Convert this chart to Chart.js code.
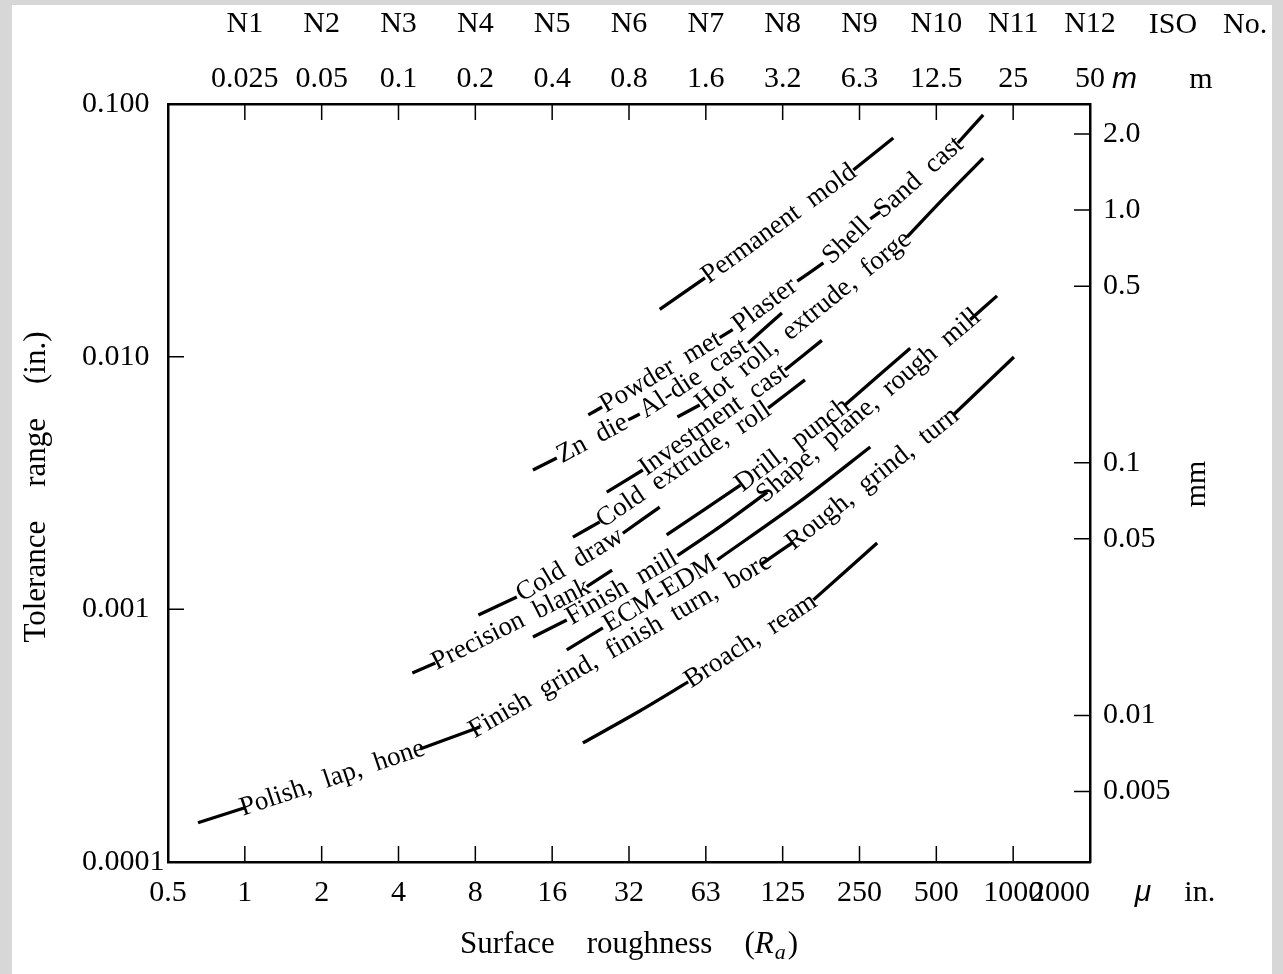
<!DOCTYPE html>
<html>
<head>
<meta charset="utf-8">
<script src="https://cdn.jsdelivr.net/npm/chart.js@4.4.1/dist/chart.umd.min.js"></script>
<style>
  html, body { margin: 0; padding: 0; background: #fff; }
  canvas { display: block; }
</style>
</head>
<body>
<canvas id="toleranceChart" width="1283" height="974"></canvas>
<script>
// axis labels: roughness doubles at every tick, so ticks sit at index 0..12
const roughnessLabels = ['0.5', '1', '2', '4', '8', '16', '32', '63', '125', '250', '500', '1000', '2000'];
const micronLabels = ['', '0.025', '0.05', '0.1', '0.2', '0.4', '0.8', '1.6', '3.2', '6.3', '12.5', '25', '50'];
const isoLabels = ['', 'N1', 'N2', 'N3', 'N4', 'N5', 'N6', 'N7', 'N8', 'N9', 'N10', 'N11', 'N12'];
const toleranceTicks = [0.1, 0.01, 0.001, 0.0001];
const toleranceLabels = ['0.100', '0.010', '0.001', '0.0001'];
const mmTicks = [2.0, 1.0, 0.5, 0.1, 0.05, 0.01, 0.005];
const mmLabels = ['2.0', '1.0', '0.5', '0.1', '0.05', '0.01', '0.005'];

// processes: x = roughness tick index, tol = tolerance (in.)
// null marks a break in the line where the process name is written
const polishX = [0.39, 1.00, null, 3.28, 4.06, null, 7.71, 8.12, null, 10.22, 11.01];
const polishTol = [1.43e-4, 1.64e-4, null, 2.80e-4, 3.42e-4, null, 1.50e-3, 1.83e-3, null, 5.88e-3, 9.97e-3];
const polishNames = ['Polish,  lap,  hone', 'Finish  grind,  finish  turn,  bore', 'Rough,  grind,  turn'];

const blankX = [3.18, 3.48, null, 5.45, 5.78];
const blankTol = [5.60e-4, 6.13e-4, null, 1.23e-3, 1.43e-3];
const blankNames = ['Precision  blank'];

const drawX = [4.04, 4.54, null, 5.92, 6.40];
const drawTol = [9.50e-4, 1.12e-3, null, 2.00e-3, 2.54e-3];
const drawNames = ['Cold  draw'];

const coldExtrudeX = [5.27, 5.62, null, 7.81, 8.29];
const coldExtrudeTol = [1.93e-3, 2.22e-3, null, 6.26e-3, 8.09e-3];
const coldExtrudeNames = ['Cold  extrude,  roll'];

const millX = [4.75, 5.19, null, 6.63, 7.18, 7.80, null, 10.44, 10.79];
const millTol = [7.77e-4, 9.07e-4, null, 1.63e-3, 2.12e-3, 2.91e-3, null, 1.40e-2, 1.74e-2];
const millNames = ['Finish  mill', 'Shape,  plane,  rough  mill'];

const ecmX = [5.19, 5.66, null, 7.15, 8.23, 9.14];
const ecmTol = [6.91e-4, 8.44e-4, null, 1.57e-3, 2.68e-3, 4.39e-3];
const ecmNames = ['ECM-EDM'];

const drillX = [6.49, 7.45, null, 8.81, 9.66];
const drillTol = [1.97e-3, 3.10e-3, null, 6.44e-3, 1.08e-2];
const drillNames = ['Drill,  punch'];

const investX = [5.71, 6.18, null, 8.03, 8.51];
const investTol = [2.91e-3, 3.56e-3, null, 8.86e-3, 1.16e-2];
const investNames = ['Investment  cast'];

const hotRollX = [6.63, 6.92, null, 9.62, 10.11, 10.61];
const hotRollTol = [5.77e-3, 6.44e-3, null, 2.98e-2, 4.28e-2, 6.11e-2];
const hotRollNames = ['Hot  roll,  extrude,  forge'];

const dieCastX = [4.75, 5.06, null, 5.99, 6.14, null, 7.55, 7.99];
const dieCastTol = [3.56e-3, 3.97e-3, null, 5.62e-3, 5.93e-3, null, 1.13e-2, 1.49e-2];
const dieCastNames = ['Zn  die', 'Al-die  cast'];

const moldX = [5.47, 5.65, null, 7.18, 7.35, null, 8.19, 8.53, null, 9.14, 9.27, null, 10.28, 10.61];
const moldTol = [5.88e-3, 6.32e-3, null, 1.19e-2, 1.28e-2, null, 1.99e-2, 2.35e-2, null, 3.51e-2, 3.74e-2, null, 7.01e-2, 9.05e-2];
const moldNames = ['Powder  met', 'Plaster', 'Shell', 'Sand  cast'];

const permX = [6.40, 6.99, null, 8.92, 9.44];
const permTol = [1.54e-2, 2.05e-2, null, 5.48e-2, 7.34e-2];
const permNames = ['Permanent  mold'];

const broachX = [5.40, 6.14, 6.77, null, 8.40, 9.23];
const broachTol = [2.96e-4, 3.96e-4, 5.16e-4, null, 1.09e-3, 1.83e-3];
const broachNames = ['Broach,  ream'];

const processes = [
    [polishX, polishTol, polishNames],
    [blankX, blankTol, blankNames],
    [drawX, drawTol, drawNames],
    [coldExtrudeX, coldExtrudeTol, coldExtrudeNames],
    [millX, millTol, millNames],
    [ecmX, ecmTol, ecmNames],
    [drillX, drillTol, drillNames],
    [investX, investTol, investNames],
    [hotRollX, hotRollTol, hotRollNames],
    [dieCastX, dieCastTol, dieCastNames],
    [moldX, moldTol, moldNames],
    [permX, permTol, permNames],
    [broachX, broachTol, broachNames]
];

const serif = '"Liberation Serif", "Times New Roman", serif';
Chart.defaults.font.family = serif;
Chart.defaults.color = '#000';

function toPoints(xs, ys) {
    // a gap point sits between its neighbours with no value, so the line breaks there
    return xs.map((x, i) => x === null
        ? { x: (xs[i - 1] + xs[i + 1]) / 2, y: null }
        : { x: x, y: ys[i] });
}

function fixedTicks(values) {
    return scale => { scale.ticks = values.map(v => ({ value: v })); };
}

// draw a row of text pieces centred on (cx, cy), optionally rotated
function drawPieces(ctx, pieces, cx, cy, angle) {
    ctx.save();
    ctx.translate(cx, cy);
    ctx.rotate(angle || 0);
    ctx.textAlign = 'left';
    ctx.textBaseline = 'middle';
    const widths = pieces.map(p => {
        ctx.font = p.font;
        return ctx.measureText(p.text).width + (p.gap || 0);
    });
    let x = -widths.reduce((s, w) => s + w, 0) / 2;
    pieces.forEach((p, i) => {
        ctx.font = p.font;
        ctx.fillText(p.text, x, p.dy || 0);
        x += widths[i];
    });
    ctx.restore();
}

const processNames = {
    id: 'processNames',
    afterDatasetsDraw(chart) {
        const ctx = chart.ctx;
        ctx.save();
        ctx.font = '27px ' + serif;
        ctx.fillStyle = '#000';
        ctx.textAlign = 'center';
        ctx.textBaseline = 'middle';
        chart.data.datasets.forEach((ds, d) => {
            const els = chart.getDatasetMeta(d).data;
            let n = 0;
            ds.data.forEach((p, i) => {
                if (p.y !== null) return;
                const a = els[i - 1], b = els[i + 1];
                ctx.save();
                ctx.translate((a.x + b.x) / 2, (a.y + b.y) / 2);
                ctx.rotate(Math.atan2(b.y - a.y, b.x - a.x));
                ctx.fillText(ds.names[n++], 0, 0);
                ctx.restore();
            });
        });
        ctx.restore();
    }
};

const frame = {
    id: 'frame',
    beforeDraw(chart) {
        const ctx = chart.ctx;
        ctx.save();
        ctx.fillStyle = '#d7d7d7';
        ctx.fillRect(0, 0, chart.width, chart.height);
        ctx.fillStyle = '#fff';
        ctx.fillRect(12, 5, 1260, chart.height - 5);
        ctx.restore();
    },
    afterDraw(chart) {
        const { ctx, chartArea: area, scales } = chart;
        const tick = 16;
        ctx.save();
        ctx.strokeStyle = '#000';
        ctx.lineWidth = 1.5;
        ctx.beginPath();
        // inward tick marks
        scales.x.ticks.forEach(t => {
            const px = scales.x.getPixelForValue(t.value);
            if (px < area.left + 2 || px > area.right - 2) return;
            ctx.moveTo(px, area.bottom); ctx.lineTo(px, area.bottom - tick);
            ctx.moveTo(px, area.top); ctx.lineTo(px, area.top + tick);
        });
        scales.y.ticks.forEach(t => {
            const py = scales.y.getPixelForValue(t.value);
            if (py < area.top + 2 || py > area.bottom - 2) return;
            ctx.moveTo(area.left, py); ctx.lineTo(area.left + tick, py);
        });
        scales.y2.ticks.forEach(t => {
            const py = scales.y2.getPixelForValue(t.value);
            ctx.moveTo(area.right, py); ctx.lineTo(area.right - tick, py);
        });
        ctx.stroke();

        ctx.fillStyle = '#000';
        const f30 = '30px ' + serif;
        const f31 = '31px ' + serif;
        const it30 = 'italic 30px "Liberation Sans", sans-serif';

        // last roughness label sits inside the frame corner
        ctx.font = f30;
        ctx.textAlign = 'right';
        ctx.textBaseline = 'middle';
        ctx.fillText(roughnessLabels[12], area.right, 893);

        drawPieces(ctx, [{ text: 'μ', font: it30, gap: 33 }, { text: 'in.', font: f30 }], 1175, 893);
        drawPieces(ctx, [{ text: 'ISO', font: f30, gap: 26 }, { text: 'No.', font: f30 }], 1208, 25);
        ctx.textAlign = 'left';
        ctx.font = it30;
        ctx.fillText('m', 1112, 80);
        drawPieces(ctx, [{ text: 'm', font: f30 }], 1201, 80);

        drawPieces(ctx, [
            { text: 'Surface', font: f31, gap: 32 },
            { text: 'roughness', font: f31, gap: 32 },
            { text: '(', font: f31 },
            { text: 'R', font: 'italic 31px ' + serif, gap: 1 },
            { text: 'a', font: 'italic 22px ' + serif, dy: 8, gap: 2 },
            { text: ')', font: f31 }
        ], (area.left + area.right) / 2, 945);

        drawPieces(ctx, [
            { text: 'Tolerance', font: f31, gap: 34 },
            { text: 'range', font: f31, gap: 34 },
            { text: '(in.)', font: f31 }
        ], 37, 487, -Math.PI / 2);

        drawPieces(ctx, [{ text: 'mm', font: f30 }], 1197, 484, -Math.PI / 2);
        ctx.restore();
    }
};

const axisBorder = { display: true, color: '#000', width: 2.5 };
const noGrid = { display: false, drawTicks: false };

new Chart(document.getElementById('toleranceChart').getContext('2d'), {
    type: 'line',
    data: {
        datasets: processes.map(([xs, ys, names]) => ({
            data: toPoints(xs, ys),
            names: names,
            borderColor: '#000',
            borderWidth: 3.3,
            pointRadius: 0,
            tension: 0.3,
            spanGaps: false,
            xAxisID: 'x',
            yAxisID: 'y'
        }))
    },
    options: {
        responsive: false,
        animation: false,
        events: [],
        layout: { padding: { left: 82, right: 0, top: 0, bottom: 0 } },
        plugins: {
            legend: { display: false },
            tooltip: { enabled: false }
        },
        scales: {
            x: {
                type: 'linear',
                position: 'bottom',
                min: 0,
                max: 12,
                bounds: 'data',
                afterBuildTicks: fixedTicks(roughnessLabels.map((_, i) => i)),
                afterFit: s => { s.height = 112; },
                grid: noGrid,
                border: axisBorder,
                ticks: {
                    autoSkip: false,
                    maxRotation: 0,
                    padding: 13,
                    font: { size: 30 },
                    callback: v => (v === 12 ? '' : roughnessLabels[v])
                }
            },
            x2: {
                type: 'linear',
                position: 'top',
                min: 0,
                max: 12,
                bounds: 'data',
                afterBuildTicks: fixedTicks(roughnessLabels.map((_, i) => i)),
                afterFit: s => { s.height = 104; },
                grid: noGrid,
                border: axisBorder,
                ticks: {
                    autoSkip: false,
                    maxRotation: 0,
                    padding: -3,
                    font: { size: 30, lineHeight: 1.833 },
                    callback: v => [isoLabels[v], micronLabels[v]]
                }
            },
            y: {
                type: 'logarithmic',
                position: 'left',
                min: 0.0001,
                max: 0.1,
                bounds: 'data',
                afterBuildTicks: fixedTicks(toleranceTicks),
                afterFit: s => { s.width = 86; },
                grid: noGrid,
                border: axisBorder,
                ticks: {
                    crossAlign: 'far',
                    padding: 0,
                    font: { size: 30 },
                    callback: v => toleranceLabels[toleranceTicks.indexOf(v)]
                }
            },
            y2: {
                type: 'logarithmic',
                position: 'right',
                min: 0.00263,
                max: 2.63,
                bounds: 'data',
                afterBuildTicks: fixedTicks(mmTicks),
                afterFit: s => { s.width = 193; },
                grid: noGrid,
                border: axisBorder,
                ticks: {
                    padding: 13,
                    font: { size: 30 },
                    callback: v => mmLabels[mmTicks.indexOf(v)]
                }
            }
        }
    },
    plugins: [frame, processNames]
});
</script>
</body>
</html>
